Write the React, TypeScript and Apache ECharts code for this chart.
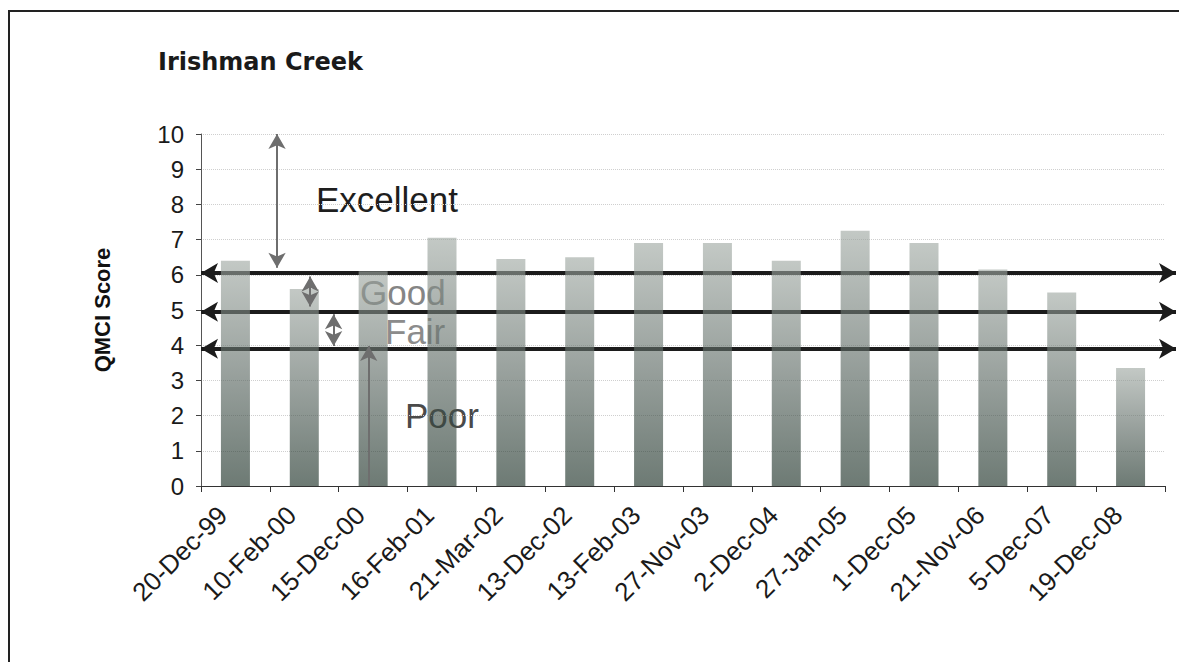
import React, { useEffect, useRef } from "react";
import * as echarts from "echarts";

// QMCI scores per sampling date
const sampleDates = [
  "20-Dec-99", "10-Feb-00", "15-Dec-00", "16-Feb-01", "21-Mar-02", "13-Dec-02", "13-Feb-03",
  "27-Nov-03", "2-Dec-04", "27-Jan-05", "1-Dec-05", "21-Nov-06", "5-Dec-07", "19-Dec-08",
];
const qmciScores = [6.4, 5.6, 6.1, 7.05, 6.45, 6.5, 6.9, 6.9, 6.4, 7.25, 6.9, 6.15, 5.5, 3.35];

// Water-quality class boundaries (horizontal arrows)
const classBoundaries = [6.05, 4.95, 3.9];

// Class range arrows: [x position (0-100 across plot), from score, to score, double-headed]
const classArrows: [number, number, number, boolean][] = [
  [7.8, 10, 6.2, true],
  [11.2, 5.95, 5.1, true],
  [13.6, 4.88, 3.98, true],
  [17.2, 0, 3.98, false],
];

const FONT = "'Liberation Sans', Arial, sans-serif";

export default function App() {
  const ref = useRef<HTMLDivElement>(null);

  useEffect(() => {
    if (!ref.current) return;
    const chart = echarts.init(ref.current, undefined, { renderer: "svg" });

    const gridTop = 134;
    const gridBottom = 176;

    chart.setOption({
      animation: false,
      backgroundColor: "#ffffff",
      title: {
        text: "Irishman Creek",
        left: 153,
        top: 45,
        textStyle: {
          fontFamily: "'DejaVu Sans', sans-serif",
          fontWeight: "bold",
          fontSize: 24,
          color: "#1a1a1a",
        },
      },
      grid: [
        { left: 201, right: 14, top: gridTop, bottom: gridBottom },
        { left: 201, right: 3, top: gridTop, bottom: gridBottom },
      ],
      xAxis: [
        {
          type: "category",
          gridIndex: 0,
          data: sampleDates,
          boundaryGap: true,
          axisLine: { lineStyle: { color: "#333", width: 1 } },
          axisTick: { show: true, length: 6, alignWithLabel: false, lineStyle: { color: "#333" } },
          axisLabel: {
            interval: 0,
            rotate: 45,
            margin: 12,
            padding: [0, 18, 22, 0],
            fontSize: 26,
            fontFamily: FONT,
            color: "#1a1a1a",
          },
          splitLine: { show: false },
        },
        {
          type: "value",
          gridIndex: 1,
          min: 0,
          max: 100,
          show: false,
        },
      ],
      yAxis: [
        {
          type: "value",
          gridIndex: 0,
          min: 0,
          max: 10,
          interval: 1,
          name: "QMCI Score",
          nameLocation: "middle",
          nameGap: 88,
          nameTextStyle: {
            fontFamily: FONT,
            fontWeight: "bold",
            fontSize: 22,
            color: "#111",
          },
          axisLine: { show: true, lineStyle: { color: "#555", width: 1 } },
          axisTick: { show: true, length: 5, lineStyle: { color: "#444" } },
          axisLabel: { fontSize: 24, fontFamily: FONT, color: "#1a1a1a", margin: 17 },
          splitLine: { show: true, lineStyle: { color: "#cfcfcf", type: "dotted", width: 1 } },
        },
        {
          type: "value",
          gridIndex: 1,
          min: 0,
          max: 10,
          show: false,
        },
      ],
      graphic: [
        {
          type: "line",
          shape: { x1: 9, y1: 11, x2: 9, y2: 700 },
          style: { stroke: "#222", lineWidth: 2 },
          silent: true,
        },
        {
          type: "line",
          shape: { x1: 8, y1: 11, x2: 1200, y2: 11 },
          style: { stroke: "#222", lineWidth: 2 },
          silent: true,
        },
        {
          type: "text",
          x: 316,
          y: 199,
          style: { text: "Excellent", font: `35px ${FONT}`, fill: "#1e1e1e", textVerticalAlign: "middle" },
          silent: true,
        },
        {
          type: "text",
          x: 360,
          y: 292,
          style: { text: "Good", font: `35px ${FONT}`, fill: "#858585", textVerticalAlign: "middle" },
          silent: true,
        },
        {
          type: "text",
          x: 385,
          y: 331,
          style: { text: "Fair", font: `35px ${FONT}`, fill: "#8c8c8c", textVerticalAlign: "middle" },
          silent: true,
        },
        {
          type: "text",
          x: 405,
          y: 415,
          style: { text: "Poor", font: `35px ${FONT}`, fill: "#4a4a4a", textVerticalAlign: "middle" },
          silent: true,
        },
      ],
      series: [
        {
          name: "Class boundaries",
          type: "line",
          xAxisIndex: 1,
          yAxisIndex: 1,
          data: [],
          z: 1,
          silent: true,
          markLine: {
            z: 1,
            silent: true,
            symbol: ["arrow", "arrow"],
            symbolSize: [15, 17],
            label: { show: false },
            lineStyle: { color: "#1c1c1c", width: 4, type: "solid" },
            data: classBoundaries.map((v) => [{ coord: [0, v] }, { coord: [100, v] }]),
          },
        },
        {
          name: "QMCI",
          type: "bar",
          xAxisIndex: 0,
          yAxisIndex: 0,
          data: qmciScores,
          barWidth: 29,
          z: 3,
          silent: true,
          itemStyle: {
            opacity: 0.62,
            color: new echarts.graphic.LinearGradient(0, 0, 0, 1, [
              { offset: 0, color: "#9ea7a1" },
              { offset: 0.5, color: "#5a6761" },
              { offset: 1, color: "#14291f" },
            ]),
          },
        },
        {
          name: "Class ranges",
          type: "line",
          xAxisIndex: 1,
          yAxisIndex: 1,
          data: [],
          z: 6,
          silent: true,
          markLine: {
            z: 6,
            silent: true,
            symbolSize: [13, 15],
            label: { show: false },
            lineStyle: { color: "#6e6e6e", width: 2, type: "solid" },
            data: classArrows.map(([x, from, to, both]) => [
              { coord: [x, from], symbol: both ? "arrow" : "none" },
              { coord: [x, to], symbol: "arrow" },
            ]),
          },
        },
      ],
    });

    return () => chart.dispose();
  }, []);

  return (
    <div
      ref={ref}
      style={{ position: "fixed", left: 0, top: 0, width: 1179, height: 662 }}
    />
  );
}
